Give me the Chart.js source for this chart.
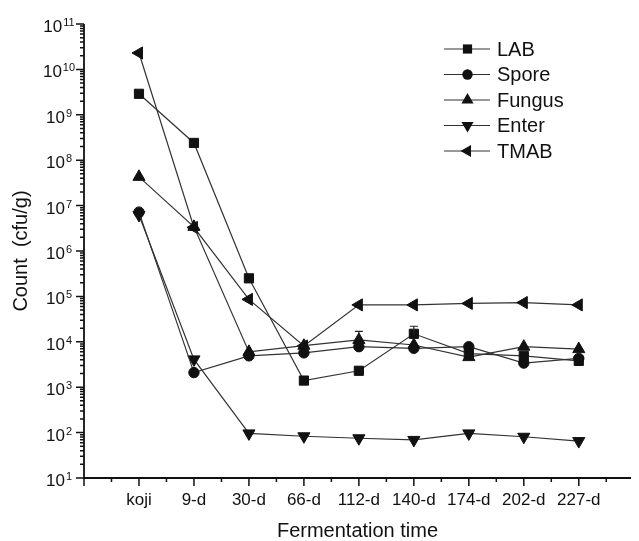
<html lang="en">
<head>
    <meta charset="UTF-8">
    <title>Fermentation time counts</title>
    <script src="https://cdn.jsdelivr.net/npm/chart.js"></script>
    <style>
        body { margin: 0; background: #fff; }
        #grafico { display: block; }
    </style>
</head>
<body>
    <canvas id="grafico" width="639" height="541"></canvas>

<script>
    // dados
    const categorias = ['koji', '9-d', '30-d', '66-d', '112-d', '140-d', '174-d', '202-d', '227-d'];
    const lab    = [2.9e9, 2.4e8, 2.5e5, 1.4e3, 2.3e3, 1.5e4, 5.5e3, 4.9e3, 3.8e3];
    const spore  = [7.2e6, 2.1e3, 4.9e3, 5.7e3, 7.8e3, 7.2e3, 7.8e3, 3.4e3, 4.3e3];
    const fungus = [4.3e7, 3.4e6, 6.0e3, 8.2e3, 1.1e4, 8.5e3, 4.6e3, 7.8e3, 6.9e3];
    const enter  = [6.2e6, 4.1e3, 96, 83, 75, 69, 96, 81, 65];
    const tmab   = [2.3e10, 3.3e6, 8.6e4, 8.1e3, 6.5e4, 6.5e4, 7.0e4, 7.3e4, 6.5e4];
    // barras de erro (so a parte de cima aparece)
    const labErro    = [0, 0, 0, 0, 0, 7e3, 0, 0, 0];
    const fungusErro = [0, 0, 0, 0, 6e3, 0, 0, 0, 0];
    const expoentes = [1, 2, 3, 4, 5, 6, 7, 8, 9, 10, 11];

    const fonte = "'Liberation Sans', Arial, sans-serif";
    const preto = '#111';

    function pontos(arr) {
        return arr.map((v, i) => ({ x: i, y: v }));
    }

    const series = [
        { label: 'LAB', data: lab, estilo: 'rect', raio: 6.5, rot: 0, erro: labErro },
        { label: 'Spore', data: spore, estilo: 'circle', raio: 5.2, rot: 0 },
        { label: 'Fungus', data: fungus, estilo: 'triangle', raio: 7, rot: 0, erro: fungusErro },
        { label: 'Enter', data: enter, estilo: 'triangle', raio: 7, rot: 180 },
        { label: 'TMAB', data: tmab, estilo: 'triangle', raio: 7, rot: 270 }
    ];

    // desenha marcador igual ao do Chart.js (para a legenda)
    function marcador(ctx, estilo, x, y, r, rot) {
        const rad = rot * Math.PI / 180;
        ctx.beginPath();
        if (estilo === 'circle') {
            ctx.arc(x, y, r, 0, Math.PI * 2);
        } else if (estilo === 'rect') {
            const s = Math.SQRT1_2 * r;
            ctx.rect(x - s, y - s, 2 * s, 2 * s);
        } else {
            let a = rad;
            ctx.moveTo(x + Math.sin(a) * r, y - Math.cos(a) * r);
            a += 2 * Math.PI / 3;
            ctx.lineTo(x + Math.sin(a) * r, y - Math.cos(a) * r);
            a += 2 * Math.PI / 3;
            ctx.lineTo(x + Math.sin(a) * r, y - Math.cos(a) * r);
            ctx.closePath();
        }
        ctx.fill();
    }

    const eixos = {
        id: 'eixos',
        afterDatasetsDraw(chart) {
            const ctx = chart.ctx, xs = chart.scales.x, ys = chart.scales.y, a = chart.chartArea;
            ctx.save();

            // barras de erro
            ctx.strokeStyle = '#222';
            ctx.lineWidth = 1.2;
            series.forEach((s, i) => {
                if (!s.erro) return;
                const meta = chart.getDatasetMeta(i);
                s.erro.forEach((e, j) => {
                    if (!e) return;
                    const p = meta.data[j];
                    const yt = ys.getPixelForValue(s.data[j] + e);
                    ctx.beginPath();
                    ctx.moveTo(p.x, p.y);
                    ctx.lineTo(p.x, yt);
                    ctx.moveTo(p.x - 4, yt);
                    ctx.lineTo(p.x + 4, yt);
                    ctx.stroke();
                });
            });

            // linhas dos eixos
            ctx.strokeStyle = preto;
            ctx.lineWidth = 1.8;
            ctx.beginPath();
            ctx.moveTo(a.left, a.top);
            ctx.lineTo(a.left, a.bottom);
            ctx.lineTo(a.right, a.bottom);
            ctx.stroke();

            // ticks do x
            ctx.lineWidth = 1.5;
            ctx.beginPath();
            for (let v = -1; v <= 9; v += 0.5) {
                const px = xs.getPixelForValue(v);
                if (px > a.right + 0.5) break;
                const len = Number.isInteger(v) ? 8 : 4;
                ctx.moveTo(px, a.bottom);
                ctx.lineTo(px, a.bottom + len);
            }
            ctx.stroke();

            ctx.fillStyle = preto;
            ctx.font = '17px ' + fonte;
            ctx.textAlign = 'center';
            ctx.textBaseline = 'middle';
            categorias.forEach((c, i) => {
                ctx.fillText(c, xs.getPixelForValue(i), a.bottom + 22);
            });

            // ticks do y (log)
            ctx.beginPath();
            expoentes.forEach(e => {
                const py = ys.getPixelForValue(Math.pow(10, e));
                ctx.moveTo(a.left, py);
                ctx.lineTo(a.left - 8, py);
                if (e < 11) {
                    for (let m = 2; m <= 9; m++) {
                        const pm = ys.getPixelForValue(m * Math.pow(10, e));
                        ctx.moveTo(a.left, pm);
                        ctx.lineTo(a.left - 4, pm);
                    }
                }
            });
            ctx.stroke();

            // rotulos 10^n
            ctx.textAlign = 'left';
            ctx.textBaseline = 'alphabetic';
            expoentes.forEach(e => {
                const py = ys.getPixelForValue(Math.pow(10, e));
                ctx.font = '17px ' + fonte;
                const wb = ctx.measureText('10').width;
                ctx.font = '11px ' + fonte;
                const we = ctx.measureText(String(e)).width;
                const x0 = 59 - (wb + 1 + we) / 2;
                ctx.font = '17px ' + fonte;
                ctx.fillText('10', x0, py + 8);
                ctx.font = '11px ' + fonte;
                ctx.fillText(String(e), x0 + wb + 1, py + 2);
            });

            // titulos
            ctx.font = '20px ' + fonte;
            ctx.textAlign = 'center';
            ctx.textBaseline = 'middle';
            ctx.fillText('Fermentation time', (a.left + a.right) / 2, 531);
            ctx.save();
            ctx.translate(21, (a.top + a.bottom) / 2);
            ctx.rotate(-Math.PI / 2);
            ctx.fillText('Count  (cfu/g)', 0, 0);
            ctx.restore();

            // legenda
            ctx.textAlign = 'left';
            series.forEach((s, i) => {
                const ly = 49 + i * 25.5;
                ctx.strokeStyle = '#333';
                ctx.lineWidth = 1.2;
                ctx.beginPath();
                ctx.moveTo(444, ly);
                ctx.lineTo(490, ly);
                ctx.stroke();
                ctx.fillStyle = preto;
                marcador(ctx, s.estilo, 467.5, ly, s.raio, s.rot);
                ctx.font = '20px ' + fonte;
                ctx.fillText(s.label, 497, ly + 1);
            });

            ctx.restore();
        }
    };

    const grafico = new Chart(document.getElementById('grafico'), {
        type: 'line',
        data: {
            datasets: series.map(s => ({
                label: s.label,
                data: pontos(s.data),
                borderColor: '#333',
                borderWidth: 1.2,
                backgroundColor: preto,
                pointStyle: s.estilo,
                pointRadius: s.raio,
                pointRotation: s.rot,
                pointBackgroundColor: preto,
                pointBorderColor: preto,
                pointBorderWidth: 1,
                tension: 0,
                fill: false
            }))
        },
        options: {
            responsive: false,
            animation: false,
            layout: { padding: { top: 24, right: 0, bottom: 0, left: 0 } },
            plugins: {
                legend: { display: false },
                tooltip: { enabled: false }
            },
            scales: {
                x: {
                    type: 'linear',
                    min: -1,
                    max: 8.95,
                    grid: { display: false },
                    border: { display: false },
                    ticks: { display: false },
                    afterFit: s => { s.height = 63; }
                },
                y: {
                    type: 'logarithmic',
                    min: 10,
                    max: 1e11,
                    grid: { display: false },
                    border: { display: false },
                    ticks: { display: false },
                    afterFit: s => { s.width = 84; }
                }
            }
        },
        plugins: [eixos]
    });
</script>
</body>
</html>
